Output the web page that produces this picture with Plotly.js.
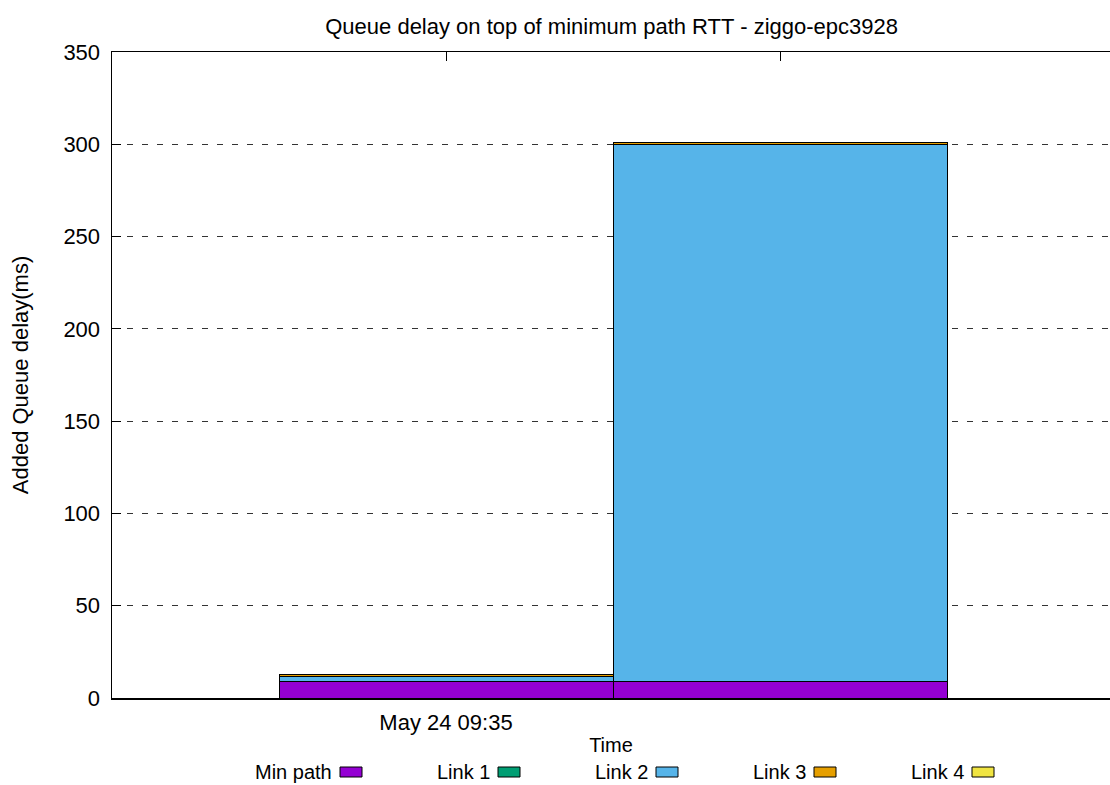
<!DOCTYPE html>
<html><head><meta charset="utf-8">
<script src="https://cdn.plot.ly/plotly-3.0.1.min.js"></script>
<style>html,body{margin:0;padding:0;background:#fff}</style>
</head><body><div id="chart" style="width:1110px;height:785px"></div>
<script>
// Data
var xPositions = [0, 1];
var tickLabels = ["May 24 09:35", ""];
var seriesNames = ["Min path", "Link 1", "Link 2", "Link 3", "Link 4"];
var seriesColors = ["#9400D3", "#009E73", "#56B4E9", "#E69F00", "#F0E442"];
var minPath = [8.7, 8.7];
var link1 = [0.1, 0.1];
var link2 = [2.7, 291.2];
var link3 = [1.0, 1.0];
var link4 = [0.2, 0.2];
var yTicks = [0, 50, 100, 150, 200, 250, 300, 350];

var seriesValues = [minPath, link1, link2, link3, link4];
var FONT = "Liberation Sans, Arial, sans-serif";
var FS = 22;

var traces = seriesValues.map(function (vals, i) {
  return {
    type: "bar", x: xPositions, y: vals, name: seriesNames[i], width: 1,
    marker: {color: seriesColors[i], line: {color: "#000", width: 1}},
    showlegend: false, hoverinfo: "y+name"
  };
});

// Legend (gnuplot style: label then swatch on the right)
var legendX0 = 362, legendStep = 158, legendY = 772;
var annotations = [], shapes = [];
seriesNames.forEach(function (n, i) {
  var sx = legendX0 + i * legendStep;
  annotations.push({
    xref: "paper", yref: "paper", text: n, showarrow: false,
    x: (sx - 28 - 112) / 998, y: (698 - legendY) / 646,
    xanchor: "right", yanchor: "middle", font: {family: FONT, size: 20, color: "#000"}
  });
  shapes.push({
    type: "rect", xref: "paper", yref: "paper",
    x0: (sx - 22 - 112) / 998, x1: (sx - 112) / 998,
    y0: (698 - legendY - 5) / 646, y1: (698 - legendY + 5) / 646,
    fillcolor: seriesColors[i], line: {color: "#000", width: 1}
  });
});

var layout = {
  width: 1110, height: 785,
  margin: {l: 112, r: 0, t: 52, b: 87},
  paper_bgcolor: "#fff", plot_bgcolor: "#fff",
  barmode: "stack", bargap: 0,
  font: {family: FONT, size: FS, color: "#000"},
  title: {text: "Queue delay on top of minimum path RTT - ziggo-epc3928",
          x: 0.551, xanchor: "center", y: 0.966, yanchor: "middle",
          font: {family: FONT, size: FS, color: "#000"}},
  xaxis: {
    range: [-1, 1.988], tickmode: "array", tickvals: xPositions, ticktext: tickLabels,
    showgrid: false, zeroline: false, showline: true, linecolor: "#000", linewidth: 1.5,
    mirror: "ticks", ticks: "inside", ticklen: 9, tickcolor: "#000", tickwidth: 1,
    layer: "below traces", ticklabelstandoff: 4,
    title: {text: "Time", standoff: 4, font: {family: FONT, size: 20}},
    tickfont: {family: FONT, size: FS}, fixedrange: true
  },
  yaxis: {
    range: [0, 350], tickmode: "array", tickvals: yTicks,
    showgrid: true, gridcolor: "#333", griddash: "6px,9px", gridwidth: 1,
    zeroline: false, showline: true, linecolor: "#000", linewidth: 1.5,
    ticks: "inside", ticklen: 9, tickcolor: "#000", layer: "below traces",
    ticklabelstandoff: 6,
    title: {text: "Added Queue delay(ms)", standoff: 28, font: {family: FONT, size: FS}},
    tickfont: {family: FONT, size: FS}, fixedrange: true
  },
  annotations: annotations,
  shapes: shapes
};

Plotly.newPlot("chart", traces, layout, {displayModeBar: false, staticPlot: true});
</script></body></html>
